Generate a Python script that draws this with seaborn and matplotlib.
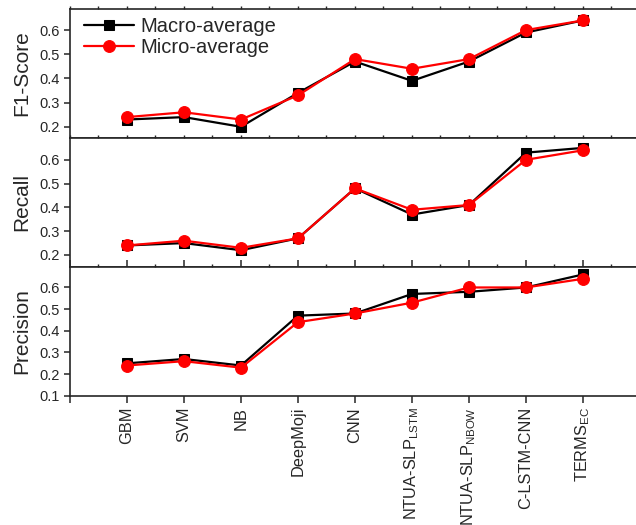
import matplotlib
matplotlib.use('Agg')
import matplotlib.pyplot as plt
import numpy as np
import pandas as pd
import seaborn as sns

models = ['GBM', 'SVM', 'NB', 'DeepMoji', 'CNN',
          r'NTUA-SLP$_{\mathregular{LSTM}}$', r'NTUA-SLP$_{\mathregular{NBOW}}$',
          'C-LSTM-CNN', r'TERMS$_{\mathregular{EC}}$']

f1_macro = [0.23, 0.24, 0.20, 0.34, 0.47, 0.39, 0.47, 0.59, 0.64]
f1_micro = [0.24, 0.26, 0.23, 0.33, 0.48, 0.44, 0.48, 0.60, 0.64]
recall_macro = [0.24, 0.25, 0.22, 0.27, 0.48, 0.37, 0.41, 0.63, 0.65]
recall_micro = [0.24, 0.26, 0.23, 0.27, 0.48, 0.39, 0.41, 0.60, 0.64]
precision_macro = [0.25, 0.27, 0.24, 0.47, 0.48, 0.57, 0.58, 0.60, 0.66]
precision_micro = [0.24, 0.26, 0.23, 0.44, 0.48, 0.53, 0.60, 0.60, 0.64]

sns.set_style('ticks')
plt.rcParams['font.family'] = ['Liberation Sans', 'DejaVu Sans']
plt.rcParams['mathtext.fontset'] = 'custom'
plt.rcParams['mathtext.rm'] = 'Liberation Sans'

pos = np.arange(1, len(models) + 1)

panels = [
    ('F1-Score', f1_macro, f1_micro, (0.154, 0.6875), [0.2, 0.3, 0.4, 0.5, 0.6]),
    ('Recall', recall_macro, recall_micro, (0.15, 0.692), [0.2, 0.3, 0.4, 0.5, 0.6]),
    ('Precision', precision_macro, precision_micro, (0.1, 0.695), [0.1, 0.2, 0.3, 0.4, 0.5, 0.6]),
]

fig, axes = plt.subplots(3, 1, figsize=(6.36, 5.25), dpi=100, sharex=True)
fig.subplots_adjust(left=0.110, right=1.0, top=0.983, bottom=0.246, hspace=0)

for ax, (name, macro, micro, ylim, yticks) in zip(axes, panels):
    df = pd.DataFrame({'pos': pos, 'macro': macro, 'micro': micro})
    sns.lineplot(x='pos', y='macro', data=df, ax=ax, color='black', marker='s',
                 markersize=6.5, markeredgecolor='black', linewidth=1.6,
                 label='Macro-average')
    sns.lineplot(x='pos', y='micro', data=df, ax=ax, color='#ff0000', marker='o',
                 markersize=8.5, markeredgecolor='#ff0000', linewidth=1.6,
                 label='Micro-average')
    ax.set_ylim(*ylim)
    ax.set_yticks(yticks)
    ax.set_yticklabels(['%.1f' % t for t in yticks], fontsize=10.5)
    ax.set_ylabel(name, fontsize=15, labelpad=6)
    ax.set_xlabel('')
    ax.set_xlim(0, 9.93)
    ax.spines['right'].set_visible(False)
    for s in ['left', 'top', 'bottom']:
        ax.spines[s].set_linewidth(1.2)
    ax.tick_params(axis='y', direction='out', length=4, width=1.1, pad=3)
    # small ticks on top edge every half step
    ax.tick_params(axis='x', which='both', top=True, bottom=False, direction='out',
                   length=2.5, width=1)
    if ax is not axes[0]:
        ax.get_legend().remove()

leg = axes[0].legend(loc='upper left', frameon=False, fontsize=14.5,
                     handlelength=2.5, handletextpad=0.3, labelspacing=0.1,
                     borderaxespad=0.0, bbox_to_anchor=(0.01, 1.0))

bottom = axes[-1]
bottom.set_xticks(np.concatenate([[0], pos]))
bottom.set_xticks(np.arange(0.5, 10, 0.5), minor=True)
bottom.tick_params(axis='x', which='major', bottom=True, top=True, direction='out',
                   length=5, width=1.1, labelsize=11.8, pad=3)
bottom.tick_params(axis='x', which='minor', top=True, bottom=False, length=2.5)
bottom.set_xticklabels([''] + models, rotation=90)
for ax in axes[:-1]:
    ax.tick_params(axis='x', which='both', labelbottom=False)

plt.savefig('out.png', dpi=100)
